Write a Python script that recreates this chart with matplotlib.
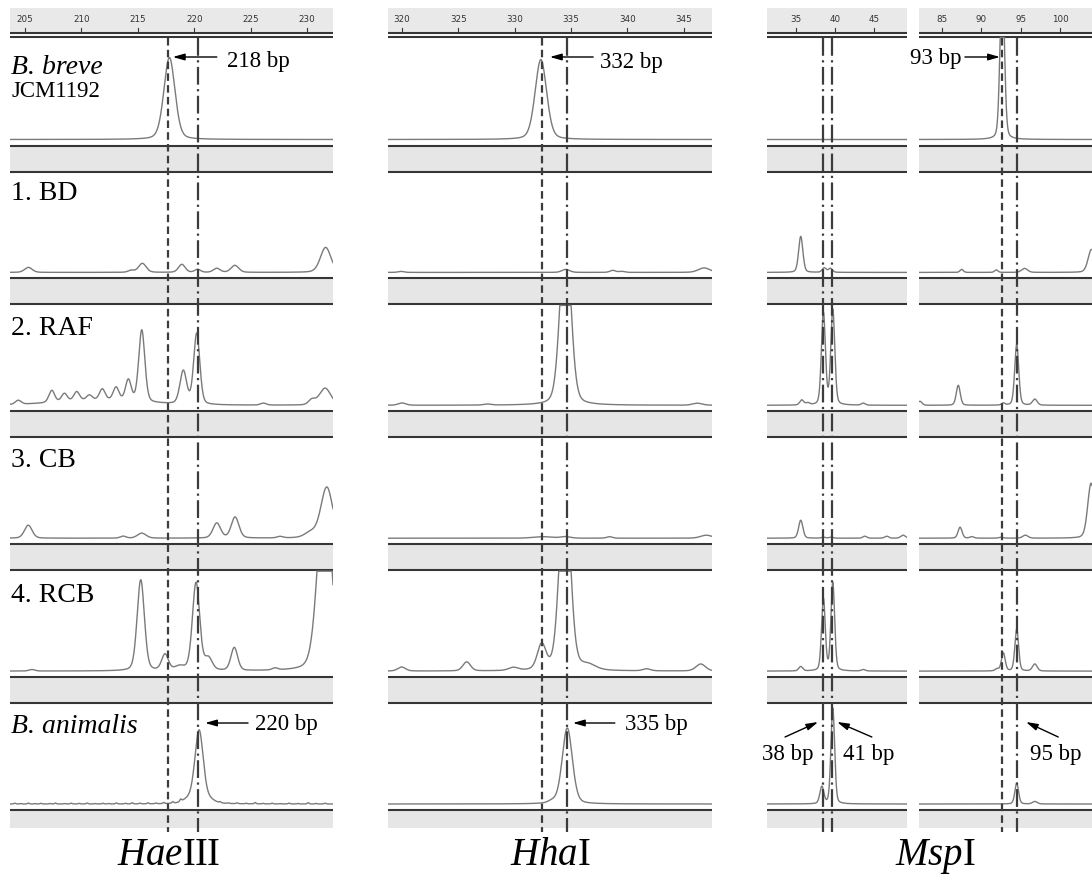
import numpy as np
import matplotlib

matplotlib.use("Agg")
import matplotlib.pyplot as plt

W, H = 1092, 877

# ---- data --------------------------------------------------------------
ROW_LABELS = ["B. breve", "1. BD", "2. RAF", "3. CB", "4. RCB", "B. animalis"]
ENZYMES = ["HaeIII", "HhaI", "MspI"]

HAE_TICKS = [205, 210, 215, 220, 225, 230]
HHA_TICKS = [320, 325, 330, 335, 340, 345]
MSP_A_TICKS = [35, 40, 45]
MSP_B_TICKS = [85, 90, 95, 100]

# peaks per row: (size bp, height, half width bp)
HAE_PEAKS = [
    [(217.8, 82, 0.58)],
    [(205.3, 5, 0.4), (214.4, 2, 0.3), (215.4, 9, 0.4), (218.9, 8, 0.35),
     (220.3, 3, 0.3), (222.0, 4, 0.35), (223.6, 7, 0.4), (231.65, 25, 0.55)],
    [(211.5, 5, 4.5), (204.4, 4, 0.3), (207.37, 12, 0.3), (208.49, 8, 0.3),
     (209.58, 9, 0.3), (210.7, 5, 0.3), (211.85, 11, 0.3), (213.07, 13, 0.3),
     (214.16, 21, 0.3), (215.35, 72, 0.32), (219.03, 33, 0.35),
     (220.22, 71, 0.32), (226.12, 2, 0.3), (230.42, 5, 0.35), (231.6, 17, 0.6)],
    [(205.29, 13, 0.4), (213.7, 2, 0.3), (215.35, 5, 0.45), (222.0, 15, 0.4),
     (223.62, 21, 0.4), (227.6, 1.5, 0.3), (230.3, 5, 0.6), (231.75, 51, 0.62)],
    [(205.6, 1.5, 0.3), (215.26, 91, 0.38), (217.41, 16, 0.35),
     (218.7, 4, 0.5), (220.16, 88, 0.38), (221.25, 12, 0.4),
     (223.55, 23, 0.35), (227.16, 2, 0.3), (231.55, 190, 0.7)],
    [(220.43, 73, 0.44), (219.5, 4, 0.6), (221.4, 3, 0.5)],
]
HAE_NOISE = [(204.1, 0.8), (204.6, 0.5), (205.3, 0.9), (205.9, 0.4),
             (206.4, 0.7), (207.2, 0.5), (207.7, 0.9), (208.5, 0.4),
             (209.1, 0.8), (209.8, 0.6), (210.5, 0.9), (211.2, 0.4),
             (211.9, 0.7), (212.4, 0.5), (213.1, 1.0), (213.9, 0.6),
             (214.5, 1.2), (215.2, 0.7), (215.9, 1.0), (216.6, 0.8),
             (217.3, 1.1), (218.1, 1.5), (218.8, 2.2), (222.3, 1.0),
             (223.0, 0.6), (223.8, 0.8), (224.6, 0.5), (225.4, 1.3),
             (226.1, 0.5), (226.9, 0.7), (227.6, 0.4), (228.4, 0.8),
             (229.2, 0.5), (230.1, 1.3), (230.8, 0.5), (231.6, 0.8)]

HHA_PEAKS = [
    [(332.32, 80, 0.6)],
    [(319.9, 1, 0.3), (334.53, 3, 0.4), (338.7, 2, 0.3), (339.5, 1, 0.3),
     (346.8, 4.5, 0.6)],
    [(320.0, 2.3, 0.4), (327.6, 1, 0.4), (334.5, 180, 0.55), (346.2, 2, 0.5)],
    [(332.5, 1.5, 1.0), (334.5, 1.5, 0.5), (338.4, 1.5, 0.3), (347.0, 3, 0.6)],
    [(319.97, 4, 0.4), (325.74, 9, 0.4), (329.88, 3, 0.5), (332.39, 25, 0.45),
     (334.45, 200, 0.55), (336.5, 5, 0.8), (341.7, 2, 0.4), (346.5, 7, 0.5)],
    [(334.66, 76, 0.53), (333.3, 2, 0.4)],
]

MSP_A_PEAKS = [
    [],
    [(35.6, 36, 0.32), (38.6, 4.5, 0.3), (39.4, 4, 0.3)],
    [(35.73, 5, 0.3), (36.5, 2, 0.3), (38.5, 92, 0.3), (39.7, 95, 0.3),
     (43.6, 2, 0.3)],
    [(35.6, 18, 0.32), (38.5, 1, 0.3), (39.5, 1, 0.3), (43.8, 2, 0.3),
     (46.6, 2, 0.3), (48.7, 3, 0.35)],
    [(35.6, 4.4, 0.3), (38.5, 72, 0.28), (39.7, 88, 0.28), (43.6, 1.5, 0.3)],
    [(38.3, 17, 0.3), (39.7, 96, 0.28)],
]

MSP_B_PEAKS = [
    [(92.66, 170, 0.32)],
    [(87.5, 3, 0.25), (91.9, 2.5, 0.25), (95.5, 4, 0.45), (104.0, 23, 0.5)],
    [(82.2, 4, 0.3), (87.07, 20, 0.3), (92.8, 2, 0.25), (94.5, 61, 0.3),
     (96.8, 6, 0.35)],
    [(87.3, 11, 0.3), (88.8, 1.5, 0.3), (92.5, 1, 0.3), (95.6, 3, 0.4),
     (103.95, 55, 0.5)],
    [(92.0, 2, 0.3), (92.8, 18, 0.28), (94.5, 42, 0.28), (96.8, 7, 0.35)],
    [(94.5, 20.7, 0.28), (96.8, 2.5, 0.35)],
]

# reference size lines: (bp, style)
HAE_LINES = [(217.7, "dash"), (220.35, "dashdot")]
HHA_LINES = [(332.39, "dash"), (334.6, "dashdot")]
MSP_A_LINES = [(38.46, "dashdot"), (39.61, "dashdot")]
MSP_B_LINES = [(92.63, "dash"), (94.53, "dashdot")]

# size callouts: (label, text bp, text y, tip bp, tip y, tail bp, tail y, ha)
HAE_CALLS = [("218 bp", 222.9, 67, 218.1, 57, 222.0, 57, "left"),
             ("220 bp", 225.4, 730, 220.96, 723, 224.77, 723, "left")]
HHA_CALLS = [("332 bp", 337.55, 68, 333.12, 57, 336.96, 57, "left"),
             ("335 bp", 339.77, 730, 335.16, 723, 338.88, 723, "left")]
MSP_A_CALLS = [("38 bp", 33.9, 760, 37.82, 722, 33.59, 737, "center"),
               ("41 bp", 44.36, 760, 40.25, 722, 44.7, 737, "center")]
MSP_B_CALLS = [("93 bp", 87.54, 64, 92.37, 57, 87.92, 57, "right"),
               ("95 bp", 99.4, 760, 95.68, 722, 99.78, 737, "center")]

# ---- layout (pixels) ----------------------------------------------------
COLS = [
    dict(px=(10, 333), bp=(203.67, 232.3), ticks=HAE_TICKS, peaks=HAE_PEAKS,
         lines=HAE_LINES, calls=HAE_CALLS),
    dict(px=(388, 712), bp=(318.76, 347.5), ticks=HHA_TICKS, peaks=HHA_PEAKS,
         lines=HHA_LINES, calls=HHA_CALLS),
    dict(px=(767, 907), bp=(31.28, 49.2), ticks=MSP_A_TICKS,
         peaks=MSP_A_PEAKS, lines=MSP_A_LINES, calls=MSP_A_CALLS),
    dict(px=(919, 1092), bp=(82.08, 104.07), ticks=MSP_B_TICKS,
         peaks=MSP_B_PEAKS, lines=MSP_B_LINES, calls=MSP_B_CALLS),
]
BAND_TOP = [145.5 + 132.9 * i for i in range(6)]
BAND_H = 26
RULER = (8, 32.5, 36.5)

SERIF = "Liberation Serif"
TRACE = "#7a7a7a"
DARK = "#363636"
GREY = "#e6e6e6"

plt.rcParams.update({
    "mathtext.fontset": "custom",
    "mathtext.rm": SERIF,
    "mathtext.it": SERIF + ":italic",
})


def signal(xs, peaks):
    y = np.zeros_like(xs)
    for pos, h, hw in peaks:
        d = (xs - pos) / hw
        y += h * (0.75 * np.exp(-np.log(2) * d ** 2) + 0.25 / (1 + d ** 2))
    return y


fig = plt.figure(figsize=(W / 100, H / 100), dpi=100)

for ci, col in enumerate(COLS):
    x0, x1 = col["px"]
    ax = fig.add_axes([x0 / W, 0, (x1 - x0) / W, 1])
    ax.set_xlim(*col["bp"])
    ax.set_ylim(H, 0)
    ax.axis("off")

    # ruler
    ax.axhspan(RULER[0], RULER[1], color="#e9e9e9", lw=0)
    ax.axhline(RULER[1], color=DARK, lw=1.5)
    ax.axhline(RULER[2], color=DARK, lw=1.5)
    for t in col["ticks"]:
        ax.plot([t, t], [28, RULER[1]], color=DARK, lw=0.8)
        ax.text(t, 20, str(t), ha="center", va="center", fontsize=6.3,
                color="#333333", family="DejaVu Sans")

    xs = np.linspace(col["bp"][0], col["bp"][1], 2500)
    for ri, peaks in enumerate(col["peaks"]):
        top = BAND_TOP[ri]
        bottom = top + BAND_H if ri < 5 else 828
        ax.axhspan(top, bottom, color=GREY, lw=0)
        ax.axhline(top, color=DARK, lw=1.5)
        if ri < 5:
            ax.axhline(bottom, color=DARK, lw=1.5)
        base = top - 6
        ceiling = RULER[2] + 1 if ri == 0 else BAND_TOP[ri - 1] + BAND_H + 1
        pk = list(peaks)
        if ci == 0 and ri == 5:
            pk += [(p, h, 0.09) for p, h in HAE_NOISE]
        sig = np.minimum(signal(xs, pk), base - ceiling)
        ax.plot(xs, base - sig, color=TRACE, lw=1.0, zorder=3)

    for pos, style in col["lines"]:
        dash = (0, (3.4, 1.9)) if style == "dash" else (0, (8, 2, 1, 2))
        ax.plot([pos, pos], [RULER[2] + 1, 832], color="#3c3c3c", lw=1.6,
                linestyle=dash, zorder=4)

    for label, tx, ty, hx, hy, sx, sy, ha in col["calls"]:
        ax.annotate("", xy=(hx, hy), xytext=(sx, sy), annotation_clip=False,
                    arrowprops=dict(arrowstyle="-|>,head_length=0.7,head_width=0.2",
                                    color="black", lw=1.0, shrinkA=0, shrinkB=0),
                    zorder=5)
        ax.text(tx, ty, label, ha=ha, va="baseline", fontsize=16.5,
                family=SERIF, clip_on=False, zorder=5)

# row labels and enzyme names
over = fig.add_axes([0, 0, 1, 1], facecolor="none")
over.set_xlim(0, W)
over.set_ylim(H, 0)
over.axis("off")
label_y = [74, 200, 335, 467, 602, 733]
for lab, y in zip(ROW_LABELS, label_y):
    italic = lab.startswith("B.")
    over.text(11, y, lab, fontsize=20, family=SERIF,
              style="italic" if italic else "normal", va="baseline")
over.text(11, 97, "JCM1192", fontsize=16.5, family=SERIF, va="baseline")

enzyme_x = [169, 550, 935]
enzyme_tex = [r"$\mathit{Hae}$III", r"$\mathit{Hha}$I", r"$\mathit{Msp}$I"]
for x, s in zip(enzyme_x, enzyme_tex):
    over.text(x, 865, s, fontsize=28, family=SERIF, ha="center", va="baseline")

fig.savefig("out.png", dpi=100)
